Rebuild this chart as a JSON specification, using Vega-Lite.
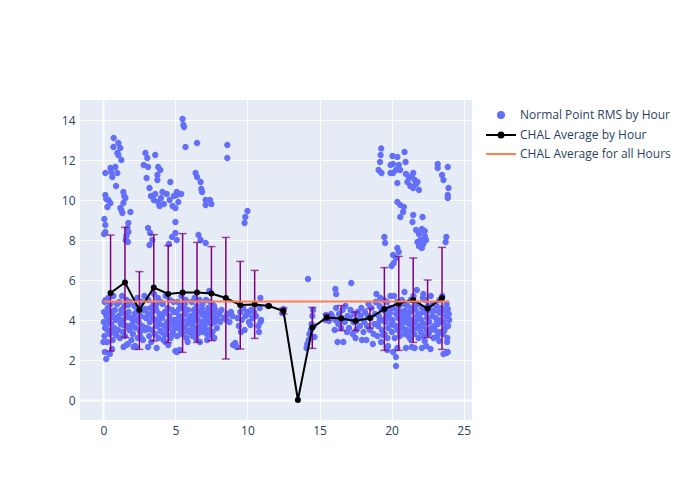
{
"$schema":"https://vega.github.io/schema/vega-lite/v6.json",
"width":392,"height":320,
"autosize":{"type":"none"},
"padding":{"left":80,"top":100,"right":228,"bottom":80},
"background":"white",
"config":{"font":"Open Sans","view":{"fill":"#e5ecf6","stroke":null},
"axis":{"domain":false,"ticks":false,"gridColor":"white","gridWidth":{"condition":{"test":"datum.value === 0","value":2},"value":1},"labelColor":"#2a3f5f","labelFontSize":12,"labelFont":"Open Sans","labelPadding":5,"title":null},
"legend":{"orient":"none","legendX":415,"legendY":9,"symbolSize":100,"labelOffset":13,"rowPadding":6,"labelFontSize":12,"labelColor":"#2a3f5f","labelFont":"Open Sans","padding":0,"symbolStrokeWidth":2}},
"datasets":{
"avg":[{"h":0.5,"m":5.35,"lo":2.45,"hi":8.25},{"h":1.5,"m":5.88,"lo":3.13,"hi":8.63},{"h":2.5,"m":4.5,"lo":2.53,"hi":6.42},{"h":3.5,"m":5.62,"lo":2.95,"hi":8.27},{"h":4.5,"m":5.3,"lo":2.87,"hi":7.72},{"h":5.5,"m":5.37,"lo":2.38,"hi":8.32},{"h":6.5,"m":5.38,"lo":2.88,"hi":7.88},{"h":7.5,"m":5.32,"lo":2.97,"hi":7.67},{"h":8.5,"m":5.1,"lo":2.05,"hi":8.13},{"h":9.5,"m":4.75,"lo":2.55,"hi":6.93},{"h":10.5,"m":4.77,"lo":3.08,"hi":6.48},{"h":11.5,"m":4.7,"lo":null,"hi":null},{"h":12.5,"m":4.45,"lo":4.3,"hi":4.6},{"h":13.5,"m":0,"lo":null,"hi":null},{"h":14.5,"m":3.62,"lo":2.58,"hi":4.63},{"h":15.5,"m":4.13,"lo":4.0,"hi":4.28},{"h":16.5,"m":4.08,"lo":3.47,"hi":4.72},{"h":17.5,"m":3.95,"lo":3.48,"hi":4.4},{"h":18.5,"m":4.1,"lo":3.6,"hi":4.58},{"h":19.5,"m":4.55,"lo":2.48,"hi":6.62},{"h":20.5,"m":4.83,"lo":2.48,"hi":7.18},{"h":21.5,"m":5.0,"lo":2.88,"hi":7.1},{"h":22.5,"m":4.57,"lo":3.12,"hi":6.0},{"h":23.5,"m":5.1,"lo":2.53,"hi":7.63}],
"all":[{"a":0,"b":24,"m":4.93}],
"pts":[
{"h":0.03,"r":3.9},{"h":0.05,"r":4.4},{"h":0.08,"r":3.2},{"h":0.1,"r":4.9},{"h":0.12,"r":3.6},{"h":0.2,"r":4.2},{"h":0.25,"r":2.9},{"h":0.28,"r":3.5},{"h":0.3,"r":4.6},{"h":0.35,"r":5.1},{"h":0.38,"r":4.0},{"h":0.45,"r":3.3},{"h":0.5,"r":4.8},{"h":0.55,"r":3.8},{"h":0.6,"r":4.3},{"h":0.65,"r":3.0},{"h":0.7,"r":5.2},{"h":0.75,"r":3.6},{"h":0.8,"r":4.5},{"h":0.85,"r":4.0},{"h":0.9,"r":3.4},{"h":0.95,"r":4.8},{"h":0.2,"r":2.05},{"h":0.1,"r":2.4},{"h":0.45,"r":2.3},{"h":0.6,"r":2.55},{"h":0.0,"r":2.9},
{"h":0.18,"r":3.75},{"h":0.42,"r":4.45},{"h":0.68,"r":4.15},{"h":0.88,"r":3.25},{"h":0.15,"r":5.0},{"h":0.58,"r":3.45},
{"h":1.02,"r":3.5},{"h":1.05,"r":4.2},{"h":1.1,"r":4.9},{"h":1.15,"r":3.1},{"h":1.2,"r":3.8},{"h":1.25,"r":4.5},{"h":1.3,"r":5.2},{"h":1.35,"r":3.4},{"h":1.4,"r":4.0},{"h":1.45,"r":4.7},{"h":1.5,"r":3.2},{"h":1.55,"r":4.3},{"h":1.6,"r":5.0},{"h":1.65,"r":3.7},{"h":1.7,"r":2.8},{"h":1.75,"r":4.4},{"h":1.8,"r":3.5},{"h":1.85,"r":4.9},{"h":1.9,"r":4.1},{"h":1.95,"r":3.0},{"h":1.4,"r":2.65},{"h":1.6,"r":2.75},
{"h":1.12,"r":4.0},{"h":1.38,"r":3.75},{"h":1.62,"r":4.15},{"h":1.88,"r":3.6},{"h":1.28,"r":4.35},{"h":1.72,"r":4.75},
{"h":2.05,"r":3.3},{"h":2.1,"r":4.0},{"h":2.15,"r":4.7},{"h":2.2,"r":2.7},{"h":2.25,"r":3.6},{"h":2.3,"r":4.4},{"h":2.35,"r":5.1},{"h":2.4,"r":3.1},{"h":2.45,"r":3.9},{"h":2.5,"r":4.6},{"h":2.55,"r":3.4},{"h":2.6,"r":4.2},{"h":2.65,"r":4.9},{"h":2.7,"r":3.7},{"h":2.75,"r":3.0},{"h":2.8,"r":4.5},{"h":2.85,"r":5.2},{"h":2.9,"r":3.5},{"h":2.95,"r":4.1},{"h":2.1,"r":2.65},{"h":2.25,"r":2.65},
{"h":2.18,"r":4.3},{"h":2.42,"r":4.05},{"h":2.68,"r":3.55},{"h":2.92,"r":4.55},{"h":2.02,"r":3.8},{"h":2.58,"r":3.15},
{"h":3.02,"r":3.6},{"h":3.08,"r":4.3},{"h":3.12,"r":5.0},{"h":3.18,"r":3.2},{"h":3.22,"r":3.9},{"h":3.28,"r":4.6},{"h":3.32,"r":2.9},{"h":3.38,"r":3.5},{"h":3.42,"r":4.1},{"h":3.48,"r":4.8},{"h":3.52,"r":5.3},{"h":3.58,"r":3.3},{"h":3.62,"r":4.0},{"h":3.68,"r":4.5},{"h":3.72,"r":3.7},{"h":3.78,"r":5.1},{"h":3.82,"r":3.1},{"h":3.88,"r":4.3},{"h":3.92,"r":3.8},{"h":3.98,"r":4.9},{"h":3.1,"r":2.65},{"h":3.7,"r":2.6},
{"h":3.15,"r":3.55},{"h":3.45,"r":4.45},{"h":3.65,"r":4.75},{"h":3.95,"r":3.45},{"h":3.25,"r":4.25},{"h":3.85,"r":4.05},
{"h":4.03,"r":3.4},{"h":4.07,"r":4.1},{"h":4.12,"r":4.8},{"h":4.17,"r":3.0},{"h":4.22,"r":3.7},{"h":4.27,"r":4.4},{"h":4.32,"r":5.2},{"h":4.37,"r":3.3},{"h":4.42,"r":3.9},{"h":4.47,"r":4.6},{"h":4.52,"r":3.6},{"h":4.57,"r":4.2},{"h":4.62,"r":5.0},{"h":4.67,"r":3.1},{"h":4.72,"r":3.8},{"h":4.77,"r":4.5},{"h":4.82,"r":3.4},{"h":4.87,"r":4.9},{"h":4.92,"r":4.0},{"h":4.97,"r":3.6},{"h":4.3,"r":2.9},{"h":4.5,"r":2.75},
{"h":4.15,"r":4.3},{"h":4.4,"r":3.55},{"h":4.65,"r":4.0},{"h":4.9,"r":4.4},{"h":4.25,"r":3.25},{"h":4.75,"r":3.25},
{"h":5.02,"r":3.7},{"h":5.07,"r":4.4},{"h":5.12,"r":3.2},{"h":5.17,"r":4.9},{"h":5.22,"r":3.9},{"h":5.27,"r":4.2},{"h":5.32,"r":3.5},{"h":5.37,"r":4.7},{"h":5.42,"r":5.2},{"h":5.47,"r":3.3},{"h":5.52,"r":4.0},{"h":5.57,"r":4.6},{"h":5.62,"r":3.6},{"h":5.67,"r":4.3},{"h":5.72,"r":5.0},{"h":5.77,"r":3.1},{"h":5.82,"r":3.8},{"h":5.87,"r":4.5},{"h":5.92,"r":3.4},{"h":5.97,"r":4.1},{"h":5.0,"r":2.45},{"h":5.1,"r":2.4},{"h":5.3,"r":2.5},{"h":5.85,"r":2.9},
{"h":5.15,"r":4.05},{"h":5.4,"r":3.75},{"h":5.65,"r":4.8},{"h":5.9,"r":4.0},{"h":5.25,"r":4.55},{"h":5.75,"r":3.45},
{"h":6.03,"r":3.5},{"h":6.08,"r":4.2},{"h":6.13,"r":4.9},{"h":6.18,"r":3.2},{"h":6.23,"r":3.9},{"h":6.28,"r":4.5},{"h":6.33,"r":5.1},{"h":6.38,"r":3.6},{"h":6.43,"r":4.1},{"h":6.48,"r":4.7},{"h":6.53,"r":3.3},{"h":6.58,"r":4.0},{"h":6.63,"r":4.4},{"h":6.68,"r":5.0},{"h":6.73,"r":3.7},{"h":6.78,"r":4.3},{"h":6.83,"r":3.4},{"h":6.88,"r":4.8},{"h":6.93,"r":3.9},{"h":6.98,"r":4.2},{"h":6.7,"r":2.9},{"h":6.45,"r":3.05},
{"h":6.15,"r":3.8},{"h":6.35,"r":4.35},{"h":6.6,"r":3.55},{"h":6.85,"r":4.55},{"h":6.25,"r":3.3},{"h":6.95,"r":3.45},
{"h":7.03,"r":3.6},{"h":7.08,"r":4.3},{"h":7.13,"r":5.0},{"h":7.18,"r":3.3},{"h":7.23,"r":4.0},{"h":7.28,"r":4.6},{"h":7.33,"r":3.5},{"h":7.38,"r":4.2},{"h":7.43,"r":4.9},{"h":7.48,"r":3.8},{"h":7.53,"r":4.4},{"h":7.58,"r":3.4},{"h":7.63,"r":4.1},{"h":7.68,"r":4.7},{"h":7.73,"r":3.9},{"h":7.78,"r":4.5},{"h":7.85,"r":4.2},{"h":7.92,"r":4.0},{"h":7.35,"r":5.45},{"h":7.2,"r":3.0},{"h":7.7,"r":3.1},
{"h":7.15,"r":3.85},{"h":7.45,"r":3.25},{"h":7.6,"r":4.75},{"h":7.88,"r":3.6},{"h":7.25,"r":4.4},
{"h":8.05,"r":4.3},{"h":8.1,"r":3.9},{"h":8.2,"r":4.5},{"h":8.35,"r":4.1},{"h":8.55,"r":4.0},{"h":8.6,"r":4.3},{"h":8.75,"r":3.9},{"h":8.85,"r":4.4},{"h":9.0,"r":2.75},{"h":8.95,"r":4.2},
{"h":9.15,"r":2.85},{"h":9.25,"r":2.65},{"h":9.3,"r":4.1},{"h":9.4,"r":3.7},{"h":9.5,"r":4.4},{"h":9.6,"r":4.0},{"h":9.7,"r":4.6},{"h":9.8,"r":3.5},{"h":9.85,"r":4.2},{"h":9.95,"r":4.4},{"h":9.55,"r":3.4},
{"h":10.05,"r":4.3},{"h":10.1,"r":3.9},{"h":10.2,"r":3.75},{"h":10.25,"r":4.5},{"h":10.35,"r":4.1},{"h":10.45,"r":4.4},{"h":10.6,"r":4.2},{"h":10.75,"r":3.7},{"h":10.8,"r":3.4},{"h":10.85,"r":4.6},{"h":10.9,"r":5.1},{"h":10.95,"r":4.0},{"h":10.9,"r":3.9},
{"h":11.4,"r":4.7},{"h":12.42,"r":4.35},{"h":12.5,"r":4.55},
{"h":14.1,"r":2.6},{"h":14.15,"r":2.8},{"h":14.2,"r":6.05},{"h":14.25,"r":3.0},{"h":14.3,"r":3.3},{"h":14.4,"r":3.5},{"h":14.45,"r":3.8},{"h":14.5,"r":4.2},{"h":14.55,"r":4.5},{"h":14.65,"r":3.15},{"h":14.6,"r":3.7},
{"h":15.4,"r":4.0},{"h":15.45,"r":4.25},{"h":15.6,"r":4.1},{"h":15.65,"r":3.95},{"h":15.8,"r":4.3},{"h":15.9,"r":4.15},
{"h":16.05,"r":3.5},{"h":16.1,"r":4.0},{"h":16.1,"r":5.55},{"h":16.15,"r":5.3},{"h":16.15,"r":4.6},{"h":16.25,"r":2.9},{"h":16.3,"r":3.8},{"h":16.35,"r":4.3},{"h":16.5,"r":3.6},{"h":16.55,"r":4.1},{"h":16.6,"r":4.5},{"h":16.65,"r":2.9},{"h":16.75,"r":3.9},{"h":16.8,"r":4.7},{"h":16.9,"r":3.4},{"h":16.95,"r":4.2},
{"h":17.05,"r":3.6},{"h":17.1,"r":4.1},{"h":17.15,"r":4.5},{"h":17.2,"r":5.85},{"h":17.3,"r":3.3},{"h":17.35,"r":3.9},{"h":17.4,"r":4.3},{"h":17.5,"r":3.1},{"h":17.55,"r":3.5},{"h":17.6,"r":4.0},{"h":17.65,"r":4.4},{"h":17.8,"r":3.7},{"h":17.85,"r":4.2},{"h":17.9,"r":4.6},{"h":17.95,"r":3.0},
{"h":18.05,"r":3.4},{"h":18.1,"r":3.9},{"h":18.15,"r":4.4},{"h":18.25,"r":3.0},{"h":18.3,"r":3.7},{"h":18.35,"r":4.2},{"h":18.4,"r":4.8},{"h":18.5,"r":3.5},{"h":18.55,"r":4.1},{"h":18.6,"r":4.6},{"h":18.7,"r":2.8},{"h":18.75,"r":3.3},{"h":18.8,"r":3.8},{"h":18.85,"r":4.3},{"h":18.9,"r":4.9},{"h":18.95,"r":5.3},
{"h":19.02,"r":3.2},{"h":19.07,"r":3.7},{"h":19.12,"r":4.2},{"h":19.17,"r":4.7},{"h":19.22,"r":5.1},{"h":19.27,"r":2.9},{"h":19.32,"r":3.5},{"h":19.37,"r":4.0},{"h":19.42,"r":4.5},{"h":19.47,"r":5.0},{"h":19.52,"r":3.3},{"h":19.57,"r":3.9},{"h":19.62,"r":4.4},{"h":19.67,"r":4.9},{"h":19.72,"r":3.1},{"h":19.77,"r":3.6},{"h":19.82,"r":4.1},{"h":19.87,"r":4.6},{"h":19.92,"r":5.2},{"h":19.97,"r":3.8},{"h":19.7,"r":2.5},{"h":19.75,"r":2.7},
{"h":19.15,"r":3.95},{"h":19.4,"r":3.25},{"h":19.65,"r":4.15},{"h":19.9,"r":4.35},{"h":19.3,"r":4.55},
{"h":20.02,"r":3.4},{"h":20.07,"r":4.0},{"h":20.12,"r":4.6},{"h":20.17,"r":5.2},{"h":20.22,"r":3.1},{"h":20.27,"r":3.7},{"h":20.32,"r":4.3},{"h":20.37,"r":4.9},{"h":20.42,"r":3.5},{"h":20.47,"r":4.1},{"h":20.52,"r":4.7},{"h":20.57,"r":3.2},{"h":20.62,"r":3.8},{"h":20.67,"r":4.4},{"h":20.72,"r":5.0},{"h":20.77,"r":3.6},{"h":20.82,"r":4.2},{"h":20.87,"r":4.8},{"h":20.92,"r":3.3},{"h":20.97,"r":3.9},{"h":20.3,"r":1.7},{"h":20.3,"r":2.15},{"h":20.1,"r":2.4},{"h":20.4,"r":2.6},{"h":20.9,"r":5.4},
{"h":20.15,"r":3.75},{"h":20.4,"r":4.5},{"h":20.65,"r":4.05},{"h":20.9,"r":4.45},{"h":20.55,"r":3.45},
{"h":21.02,"r":3.5},{"h":21.07,"r":4.1},{"h":21.12,"r":4.7},{"h":21.17,"r":3.2},{"h":21.22,"r":3.8},{"h":21.27,"r":4.4},{"h":21.32,"r":5.0},{"h":21.37,"r":3.4},{"h":21.42,"r":4.0},{"h":21.47,"r":4.6},{"h":21.52,"r":5.2},{"h":21.57,"r":3.3},{"h":21.62,"r":3.9},{"h":21.67,"r":4.5},{"h":21.72,"r":3.6},{"h":21.77,"r":4.2},{"h":21.82,"r":4.8},{"h":21.87,"r":3.1},{"h":21.92,"r":3.7},{"h":21.97,"r":4.3},{"h":21.0,"r":2.6},{"h":21.4,"r":2.65},{"h":21.6,"r":2.6},{"h":21.75,"r":5.5},
{"h":21.15,"r":4.2},{"h":21.4,"r":3.65},{"h":21.65,"r":4.75},{"h":21.9,"r":4.05},{"h":21.3,"r":3.05},
{"h":22.02,"r":3.4},{"h":22.07,"r":4.0},{"h":22.12,"r":4.6},{"h":22.17,"r":5.1},{"h":22.22,"r":3.2},{"h":22.27,"r":3.8},{"h":22.32,"r":4.4},{"h":22.37,"r":5.0},{"h":22.42,"r":3.5},{"h":22.47,"r":4.1},{"h":22.52,"r":4.7},{"h":22.57,"r":3.3},{"h":22.62,"r":3.9},{"h":22.67,"r":4.5},{"h":22.72,"r":5.2},{"h":22.77,"r":3.6},{"h":22.82,"r":4.2},{"h":22.87,"r":4.8},{"h":22.92,"r":3.1},{"h":22.97,"r":3.7},{"h":22.1,"r":2.6},{"h":22.4,"r":2.7},{"h":22.7,"r":2.55},{"h":22.2,"r":5.3},
{"h":22.15,"r":3.7},{"h":22.4,"r":4.35},{"h":22.65,"r":3.45},{"h":22.9,"r":4.45},{"h":22.3,"r":2.95},
{"h":23.02,"r":3.5},{"h":23.07,"r":4.1},{"h":23.12,"r":4.7},{"h":23.17,"r":3.2},{"h":23.22,"r":3.8},{"h":23.27,"r":4.4},{"h":23.32,"r":5.0},{"h":23.37,"r":3.4},{"h":23.42,"r":4.0},{"h":23.47,"r":4.6},{"h":23.52,"r":5.2},{"h":23.57,"r":3.3},{"h":23.62,"r":3.9},{"h":23.67,"r":4.5},{"h":23.72,"r":3.6},{"h":23.77,"r":4.2},{"h":23.82,"r":4.8},{"h":23.87,"r":3.1},{"h":23.92,"r":3.7},{"h":23.97,"r":4.3},{"h":24.0,"r":4.0},{"h":23.6,"r":2.3},{"h":23.8,"r":2.35},{"h":23.9,"r":2.4},{"h":23.85,"r":2.9},
{"h":23.15,"r":3.95},{"h":23.4,"r":4.35},{"h":23.65,"r":3.45},{"h":23.9,"r":4.55},{"h":23.3,"r":2.95},
{"h":0.72,"r":13.1},{"h":0.7,"r":12.65},{"h":1.04,"r":12.85},{"h":1.17,"r":12.6},{"h":0.97,"r":12.35},{"h":1.04,"r":12.25},{"h":1.25,"r":12.0},{"h":0.14,"r":11.35},{"h":0.49,"r":11.6},{"h":0.83,"r":11.65},{"h":0.62,"r":11.15},{"h":0.97,"r":11.35},{"h":0.55,"r":11.4},{"h":0.88,"r":10.7},{"h":0.14,"r":10.25},{"h":0.35,"r":10.0},{"h":0.28,"r":9.65},{"h":0.49,"r":9.85},{"h":0.2,"r":10.05},{"h":1.39,"r":10.4},{"h":1.53,"r":10.1},{"h":1.39,"r":9.85},{"h":1.45,"r":10.2},{"h":1.18,"r":9.6},{"h":1.32,"r":9.35},{"h":1.25,"r":9.5},{"h":1.88,"r":9.4},{"h":0.07,"r":9.05},{"h":0.14,"r":8.75},{"h":0.14,"r":8.4},{"h":0.05,"r":8.3},{"h":1.74,"r":8.85},{"h":1.67,"r":8.6},{"h":1.74,"r":8.4},{"h":1.6,"r":8.2},{"h":1.55,"r":8.0},{"h":1.7,"r":7.9},
{"h":2.92,"r":12.35},{"h":3.05,"r":12.1},{"h":3.6,"r":12.25},{"h":2.8,"r":11.75},{"h":3.1,"r":11.65},{"h":3.8,"r":11.65},{"h":3.95,"r":11.5},{"h":3.75,"r":11.25},{"h":3.75,"r":11.0},{"h":3.0,"r":11.1},{"h":3.2,"r":10.6},{"h":4.65,"r":10.9},{"h":3.3,"r":10.2},{"h":3.5,"r":10.0},{"h":3.6,"r":10.3},{"h":3.8,"r":9.9},{"h":4.0,"r":10.1},{"h":4.2,"r":9.8},{"h":4.4,"r":10.3},{"h":4.6,"r":10.0},{"h":4.8,"r":9.7},{"h":4.9,"r":10.2},{"h":5.1,"r":10.4},{"h":5.2,"r":9.9},{"h":5.4,"r":10.3},{"h":5.0,"r":9.6},{"h":4.1,"r":10.4},{"h":3.9,"r":9.7},{"h":5.1,"r":10.25},{"h":5.0,"r":8.9},{"h":5.7,"r":12.65},{"h":5.5,"r":14.05},{"h":5.55,"r":13.75},{"h":5.6,"r":13.65},{"h":3.1,"r":8.6},{"h":3.25,"r":8.35},{"h":3.4,"r":8.0},{"h":3.2,"r":7.75},{"h":4.77,"r":8.15},{"h":5.0,"r":8.35},{"h":5.1,"r":8.0},{"h":4.55,"r":7.8},
{"h":6.5,"r":12.85},{"h":6.4,"r":11.35},{"h":6.5,"r":11.15},{"h":6.75,"r":10.9},{"h":6.8,"r":10.55},{"h":6.85,"r":10.4},{"h":7.1,"r":10.0},{"h":7.4,"r":10.0},{"h":7.1,"r":9.75},{"h":7.5,"r":9.8},{"h":6.6,"r":8.25},{"h":6.75,"r":8.0},{"h":7.1,"r":7.85},{"h":8.6,"r":12.75},{"h":8.6,"r":12.1},{"h":10.0,"r":9.45},{"h":9.85,"r":9.15},{"h":9.8,"r":8.85},
{"h":19.28,"r":12.58},{"h":19.24,"r":12.25},{"h":19.2,"r":11.9},{"h":19.1,"r":11.5},{"h":19.3,"r":11.35},{"h":20.06,"r":12.2},{"h":20.4,"r":12.15},{"h":20.9,"r":12.4},{"h":20.97,"r":11.9},{"h":19.93,"r":11.75},{"h":20.1,"r":11.8},{"h":20.5,"r":11.75},{"h":20.6,"r":11.5},{"h":19.93,"r":11.35},{"h":20.1,"r":11.35},{"h":20.3,"r":11.5},{"h":20.4,"r":10.85},
{"h":21.0,"r":11.3},{"h":21.2,"r":11.1},{"h":21.4,"r":11.2},{"h":21.6,"r":11.0},{"h":21.8,"r":10.9},{"h":21.3,"r":10.7},{"h":21.5,"r":10.6},{"h":21.7,"r":10.8},{"h":21.1,"r":10.9},{"h":21.9,"r":10.5},{"h":21.5,"r":11.35},
{"h":23.2,"r":11.8},{"h":23.9,"r":11.65},{"h":23.2,"r":11.6},{"h":23.5,"r":11.25},{"h":23.6,"r":11.0},{"h":23.95,"r":10.6},{"h":23.9,"r":10.25},{"h":23.9,"r":10.1},
{"h":20.4,"r":9.9},{"h":20.6,"r":9.75},{"h":20.85,"r":9.65},{"h":20.6,"r":9.15},{"h":20.8,"r":9.4},{"h":21.5,"r":9.25},{"h":22.15,"r":9.15},{"h":21.45,"r":8.9},
{"h":21.7,"r":8.5},{"h":21.9,"r":8.3},{"h":22.1,"r":8.55},{"h":22.3,"r":8.2},{"h":22.0,"r":8.0},{"h":22.2,"r":7.8},{"h":21.8,"r":7.9},{"h":22.4,"r":8.0},{"h":22.1,"r":7.6},{"h":21.9,"r":7.7},{"h":22.3,"r":8.45},
{"h":19.5,"r":8.15},{"h":19.55,"r":7.85},{"h":23.8,"r":8.15},{"h":23.75,"r":7.9},{"h":20.4,"r":7.6},{"h":20.1,"r":7.25},{"h":20.15,"r":6.85},{"h":20.3,"r":7.1},{"h":20.5,"r":7.4},{"h":20.0,"r":6.7}
]},
"layer":[
{"data":{"name":"pts"},
 "mark":{"type":"point","filled":true,"size":111,"opacity":1,"strokeWidth":0},
 "encoding":{
  "x":{"field":"h","type":"quantitative","scale":{"domain":[-1.62,25.58],"nice":false,"zero":false},"axis":{"values":[0,5,10,15,20,25],"title":null}},
  "y":{"field":"r","type":"quantitative","scale":{"domain":[-1,15],"nice":false,"zero":false},"axis":{"values":[0,2,4,6,8,10,12,14],"title":null}},
  "color":{"datum":"Normal Point RMS by Hour","type":"nominal",
   "scale":{"domain":["Normal Point RMS by Hour","CHAL Average by Hour","CHAL Average for all Hours"],"range":["#636efa","#000000","#ff7f50"]},
   "legend":{"title":null}},
  "stroke":{"datum":"Normal Point RMS by Hour","type":"nominal",
   "scale":{"domain":["Normal Point RMS by Hour","CHAL Average by Hour","CHAL Average for all Hours"],"range":["#636efa","#000000","#ff7f50"]},
   "legend":{"title":null}},
  "shape":{"datum":"Normal Point RMS by Hour","type":"nominal",
   "scale":{"domain":["Normal Point RMS by Hour","CHAL Average by Hour","CHAL Average for all Hours"],"range":["M-0.6,0A0.6,0.6,0,1,0,0.6,0A0.6,0.6,0,1,0,-0.6,0","M-3,0L3,0M-0.5,0A0.5,0.5,0,1,0,0.5,0A0.5,0.5,0,1,0,-0.5,0","M-3,0L3,0"]},
   "legend":{"title":null}}
 }},
{"data":{"name":"avg"},
 "transform":[{"filter":"datum.lo != null"}],
 "mark":{"type":"errorbar","ticks":{"size":8},"color":"#800080","thickness":1.5},
 "encoding":{
  "x":{"field":"h","type":"quantitative","title":null},
  "y":{"field":"lo","type":"quantitative","title":null},
  "y2":{"field":"hi"}}},
{"data":{"name":"avg"},
 "mark":{"type":"line","color":"black","strokeWidth":2,"point":{"filled":true,"size":36,"color":"black"}},
 "encoding":{
  "x":{"field":"h","type":"quantitative","title":null},
  "y":{"field":"m","type":"quantitative","title":null}}},
{"data":{"name":"all"},
 "mark":{"type":"rule","color":"#ff7f50","strokeWidth":2},
 "encoding":{
  "x":{"field":"a","type":"quantitative","title":null},
  "x2":{"field":"b"},
  "y":{"field":"m","type":"quantitative","title":null}}}
]
}
